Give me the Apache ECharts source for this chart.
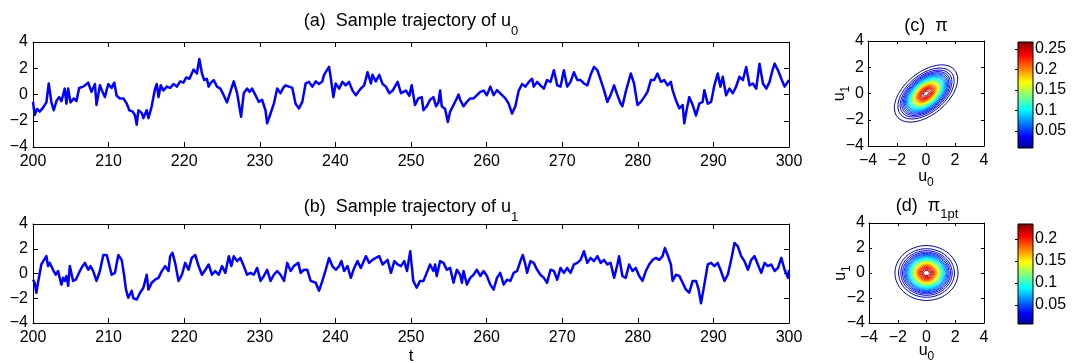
<!DOCTYPE html>
<html><head><meta charset="utf-8">
<script src="https://cdn.jsdelivr.net/npm/echarts@6/dist/echarts.min.js"></script>
<style>html,body{margin:0;padding:0;background:#fff}#c{width:1072px;height:362px}</style>
</head><body><div id="c"></div>
<script>
// ---------- data ----------
const tRange = [200, 300];
const tTickStep = 10;
const uRange = [-4, 4];
const uTickStep = 2;

const u0Points = [[200.0,-0.56],[200.22,-1.57],[200.53,-1.1],[200.88,-1.3],[201.33,-1.0],[201.77,-0.6],[202.08,0.84],[202.43,-0.6],[202.74,-1.2],[203.1,-0.5],[203.45,-0.2],[203.76,-0.5],[204.2,0.45],[204.42,-0.7],[204.65,0.45],[204.96,-0.6],[205.4,-0.3],[205.75,-0.5],[206.1,0.5],[206.64,0.6],[207.3,0.9],[207.74,0.2],[208.19,0.8],[208.4,-0.8],[208.85,0.7],[209.2,0.2],[209.5,-0.2],[209.96,0.8],[210.4,0.5],[210.75,0.9],[211.06,-0.1],[211.5,-0.3],[211.95,-0.3],[212.4,-0.7],[212.74,-1.2],[213.19,-1.3],[213.5,-1.6],[213.72,-2.3],[213.94,-1.2],[214.38,-1.4],[214.6,-1.8],[215.04,-1.2],[215.27,-1.8],[215.7,-0.9],[216.15,0.45],[216.37,0.8],[216.6,-0.2],[216.9,0.7],[217.26,0.3],[217.7,0.6],[218.14,0.5],[218.58,0.8],[219.03,0.6],[219.47,1.0],[219.9,0.9],[220.27,1.3],[220.7,1.2],[221.24,1.9],[221.68,1.6],[222.0,2.7],[222.35,1.6],[222.65,1.1],[223.0,1.2],[223.23,0.6],[223.54,0.9],[223.9,1.1],[224.34,0.6],[224.78,0.45],[225.22,-0.05],[225.66,-0.6],[226.1,0.2],[226.55,1.0],[227.0,0.1],[227.52,-1.7],[227.88,0.1],[228.32,0.45],[228.67,0.2],[228.98,0.45],[229.42,-0.05],[229.87,-0.56],[230.3,-0.4],[230.75,-1.2],[230.97,-2.2],[231.42,-1.45],[231.86,-0.7],[232.3,0.45],[232.74,0.1],[233.1,0.5],[233.4,0.7],[233.85,0.6],[234.3,0.5],[234.73,-0.7],[235.18,-1.06],[235.62,-0.56],[236.06,0.84],[236.5,0.96],[236.95,0.6],[237.4,1.0],[237.83,0.8],[238.27,1.0],[238.5,1.5],[238.72,1.7],[239.16,2.1],[239.38,1.3],[239.73,-0.2],[240.04,0.84],[240.49,0.45],[240.93,0.96],[241.37,0.7],[241.8,0.96],[242.26,0.3],[242.7,-0.05],[243.36,0.45],[243.8,0.7],[244.03,1.2],[244.25,1.7],[244.7,0.84],[244.9,1.5],[245.35,1.0],[245.8,1.5],[246.24,0.8],[246.68,0.6],[247.12,0.1],[247.57,0.3],[248.23,0.96],[248.67,0.1],[249.34,0.3],[249.78,-0.1],[250.09,0.7],[250.53,-0.8],[250.97,-0.3],[251.42,-0.2],[251.64,-1.2],[252.08,-0.9],[252.52,-0.4],[252.96,-0.2],[253.32,-0.9],[253.63,-0.6],[253.85,0.3],[254.07,-0.9],[254.51,-1.1],[254.87,-2.1],[255.18,-1.3],[255.62,-0.8],[256.06,-0.3],[256.28,0.0],[256.5,-0.4],[256.95,-0.9],[257.39,-0.56],[257.83,-0.3],[258.27,-0.3],[258.72,-0.05],[259.16,0.2],[259.6,0.3],[260.04,-0.05],[260.49,0.6],[260.93,-0.05],[261.37,0.33],[261.6,0.45],[262.04,-0.05],[262.48,-0.3],[262.92,-0.7],[263.36,-1.45],[263.8,-0.9],[264.25,0.3],[264.7,0.8],[265.13,0.6],[265.58,0.96],[266.02,1.2],[266.24,0.6],[266.68,0.96],[267.12,0.7],[267.57,0.45],[268.0,1.1],[268.45,0.96],[268.9,1.85],[269.34,0.7],[269.78,0.6],[270.22,1.85],[270.66,0.6],[271.1,0.96],[271.55,1.7],[272.0,1.1],[272.43,1.1],[272.88,0.84],[273.32,0.7],[273.76,1.5],[274.2,2.1],[274.65,1.85],[275.1,1.1],[275.53,0.33],[275.97,-0.56],[276.4,-0.05],[276.86,0.7],[277.3,-0.05],[277.74,-0.7],[277.96,-0.9],[278.4,0.2],[279.07,1.6],[279.5,0.84],[279.96,-0.8],[280.4,-0.56],[280.84,-0.2],[281.28,0.2],[281.73,1.1],[282.17,1.1],[282.6,1.6],[283.05,0.96],[283.5,1.1],[283.94,0.7],[284.38,0.96],[284.6,0.33],[285.04,-0.43],[285.5,-1.06],[285.93,-0.8],[286.15,-2.2],[286.37,-1.45],[286.8,-0.2],[287.26,-0.8],[287.7,-1.6],[288.14,-0.7],[288.58,-0.56],[288.8,0.33],[289.25,-0.7],[289.7,-0.56],[290.13,0.7],[290.57,1.6],[290.93,0.6],[291.24,1.35],[291.68,-0.05],[292.12,0.45],[292.57,0.1],[293.0,0.6],[293.45,1.35],[293.9,1.1],[294.34,2.1],[294.78,0.7],[295.22,0.84],[295.66,0.45],[296.1,2.35],[296.55,0.84],[297.0,0.45],[297.43,0.96],[297.74,1.7],[298.1,2.35],[298.54,1.85],[298.98,1.2],[299.42,0.6],[300.0,1.1]];

const u1Points = [[200.0,-0.5],[200.22,-0.75],[200.44,-1.55],[200.66,-0.75],[200.88,-0.6],[201.1,0.73],[201.33,0.86],[201.77,1.4],[201.99,0.6],[202.21,0.86],[202.43,1.0],[202.65,0.3],[203.0,-0.1],[203.32,0.2],[203.63,-0.6],[203.76,-0.9],[203.98,-0.35],[204.2,-0.6],[204.42,-0.2],[204.65,-1.0],[204.87,0.6],[205.0,0.7],[205.3,-0.6],[205.66,-0.5],[205.97,-0.1],[206.2,0.2],[206.42,0.45],[206.86,0.86],[207.3,0.3],[207.6,0.6],[207.96,0.2],[208.4,-0.6],[208.85,0.2],[209.3,1.5],[209.73,1.5],[209.96,1.0],[210.4,-0.1],[210.84,0.05],[211.28,1.5],[211.73,1.1],[212.04,-0.1],[212.3,-1.3],[212.6,-1.96],[213.05,-1.4],[213.27,-2.0],[213.72,-2.1],[214.16,-1.55],[214.6,-1.15],[215.04,-0.1],[215.27,-1.3],[215.7,-0.75],[216.15,-0.5],[216.6,-0.35],[217.04,0.2],[217.48,0.6],[217.92,0.2],[218.14,1.4],[218.45,1.67],[218.8,0.86],[219.25,-0.6],[219.7,-0.1],[220.13,0.86],[220.58,0.3],[221.0,1.26],[221.46,1.5],[221.9,0.6],[222.35,-0.1],[222.8,0.3],[223.23,0.73],[223.67,-0.1],[224.1,0.2],[224.56,-0.1],[225.0,0.6],[225.44,0.05],[225.9,1.4],[226.24,0.6],[226.55,1.4],[227.0,1.0],[227.43,1.26],[227.88,0.6],[228.32,-0.1],[228.76,0.05],[229.2,-0.1],[229.65,0.45],[230.1,-0.6],[230.53,-0.2],[230.97,0.3],[231.42,-0.6],[231.86,-0.1],[232.3,0.2],[232.74,-0.1],[233.2,-0.6],[233.63,0.86],[234.07,0.2],[234.5,0.6],[235.1,0.86],[235.4,0.05],[235.84,0.3],[236.28,0.3],[236.73,-0.6],[237.4,-0.75],[237.83,-1.4],[238.27,-0.6],[238.72,0.3],[239.16,1.26],[239.6,0.6],[240.04,0.3],[240.49,0.6],[240.8,1.0],[241.15,0.2],[241.6,0.6],[242.04,-0.35],[242.48,0.45],[242.92,1.0],[243.36,0.45],[244.03,1.4],[244.47,0.86],[244.9,1.1],[245.35,1.26],[245.8,1.4],[246.24,0.73],[246.9,1.1],[247.35,0.05],[247.8,1.0],[248.23,0.73],[248.67,0.6],[249.1,1.0],[249.47,0.2],[249.9,1.8],[250.3,-0.6],[250.75,-1.15],[251.2,-0.6],[251.64,-0.6],[252.08,0.05],[252.52,0.73],[252.96,0.2],[253.19,0.73],[253.4,-0.2],[253.85,1.0],[254.3,0.86],[254.73,0.3],[255.18,0.45],[255.62,-0.75],[256.06,0.3],[256.5,-0.1],[256.73,-0.75],[256.95,0.2],[257.39,-0.9],[257.83,-0.35],[258.27,-0.1],[258.72,0.3],[259.16,-0.2],[259.6,0.2],[260.04,-0.2],[260.49,-0.9],[260.93,-1.3],[261.37,-0.35],[261.8,0.05],[262.26,-0.9],[262.7,-0.5],[263.14,-0.6],[263.58,0.05],[264.03,0.2],[264.47,1.0],[264.78,1.5],[265.13,0.73],[265.35,0.05],[265.8,1.0],[266.24,0.86],[266.68,0.3],[267.12,-0.1],[267.57,-0.35],[268.0,-0.75],[268.45,0.3],[268.9,0.2],[269.34,-0.5],[269.78,0.45],[270.22,0.05],[270.66,0.45],[271.1,0.05],[271.55,0.73],[272.0,0.86],[272.43,1.1],[272.88,1.8],[273.32,0.86],[273.76,1.26],[274.2,1.0],[274.65,1.4],[275.1,0.86],[275.53,1.1],[275.97,0.73],[276.4,0.86],[276.86,-0.35],[277.3,0.73],[277.52,1.4],[277.96,-0.2],[278.4,-0.35],[278.85,0.73],[279.3,0.2],[279.73,0.45],[280.18,-0.2],[280.62,-0.6],[281.06,0.2],[281.5,0.73],[281.95,1.1],[282.4,1.26],[282.83,1.1],[283.27,1.4],[283.58,2.06],[283.94,1.5],[284.38,0.73],[284.6,-0.6],[285.04,-0.1],[285.5,-0.2],[285.93,-0.75],[286.37,-1.3],[286.8,-1.55],[287.26,-0.6],[287.7,-0.6],[288.05,-1.3],[288.36,-2.4],[288.8,-0.9],[289.25,0.73],[289.7,0.86],[290.13,0.6],[290.57,0.86],[291.0,0.2],[291.46,-0.6],[291.9,-0.1],[292.35,1.1],[292.79,2.47],[293.23,2.2],[293.67,1.4],[294.1,1.0],[294.56,0.3],[295.0,1.1],[295.44,1.4],[295.88,0.73],[296.33,0.05],[296.77,0.86],[297.2,0.6],[297.65,0.73],[298.1,0.2],[298.54,0.45],[298.98,1.26],[299.42,0.3],[299.87,-0.35],[300.0,0.3]];

// joint density pi (c) and one-point product density pi_1pt (d): covariance [var0, cov01, var1]
const covJoint = [0.69, 0.345, 0.69];
const covOnePoint = [0.68, 0.0, 0.68];
const climJoint = [0.0085, 0.267];
const climOnePoint = [0.0068, 0.234];
const contourLevelCount = 30;
const cbTicksJoint = [0.05, 0.1, 0.15, 0.2, 0.25];
const cbTicksOnePoint = [0.05, 0.1, 0.15, 0.2];

// ---------- helpers ----------
const FONT = '"Liberation Sans", Arial, Helvetica, sans-serif';
const TICK_FS = 16;
const jetStops = [[0,[0,0,143]],[0.111,[0,0,255]],[0.365,[0,255,255]],[0.619,[255,255,0]],[0.873,[255,0,0]],[1,[128,0,0]]];
function jet(t) {
  t = Math.max(0, Math.min(1, t));
  for (let i = 1; i < jetStops.length; i++) {
    if (t <= jetStops[i][0]) {
      const [t0, c0] = jetStops[i-1], [t1, c1] = jetStops[i];
      const f = (t - t0) / (t1 - t0);
      const c = c0.map((v, k) => Math.round(v + (c1[k] - v) * f));
      return 'rgb(' + c.join(',') + ')';
    }
  }
  return 'rgb(128,0,0)';
}
const jetGradient = jetStops.map(s => ({offset: s[0], color: 'rgb(' + s[1].join(',') + ')'}));
const minus = v => String(v).replace('-', '\u2212');

function contourSeries(cov, clim, n, axisIdx) {
  const [a, b, d] = cov;
  const det = a * d - b * b;
  const pmax = 1 / (2 * Math.PI * Math.sqrt(det));
  const l11 = Math.sqrt(a), l21 = b / l11, l22 = Math.sqrt(d - l21 * l21);
  const out = [];
  for (let k = 0; k < n; k++) {
    const lev = clim[0] + (clim[1] - clim[0]) * k / (n - 1);
    if (lev >= pmax) continue;
    const c = Math.sqrt(-2 * Math.log(lev / pmax));
    const pts = [];
    for (let j = 0; j <= 144; j++) {
      const th = 2 * Math.PI * j / 144;
      const z1 = c * Math.cos(th), z2 = c * Math.sin(th);
      pts.push([l11 * z1, l21 * z1 + l22 * z2]);
    }
    out.push({type: 'line', xAxisIndex: axisIdx, yAxisIndex: axisIdx, data: pts, symbol: 'none', showSymbol: false,
      lineStyle: {width: 1, color: jet((lev - clim[0]) / (clim[1] - clim[0]))}, silent: true, z: 2});
  }
  return out;
}

function colorbarSeries(clim, axisIdx) {
  return {type: 'custom', xAxisIndex: axisIdx, yAxisIndex: axisIdx, silent: true, z: 1,
    data: [[0, clim[0], 1, clim[1]]],
    renderItem: (params, api) => {
      const p0 = api.coord([api.value(0), api.value(3)]);
      const p1 = api.coord([api.value(2), api.value(1)]);
      return {type: 'rect', shape: {x: p0[0], y: p0[1], width: p1[0] - p0[0], height: p1[1] - p0[1]},
        style: {fill: new echarts.graphic.LinearGradient(0, 1, 0, 0, jetGradient), stroke: '#000', lineWidth: 1}};
    }};
}

const lineStyleAxis = {color: '#000', width: 1};
function axis(o) {
  const base = {
    type: 'value', splitLine: {show: false}, nameMoveOverlap: false,
    axisLine: {show: true, onZero: false, lineStyle: lineStyleAxis},
    axisTick: {show: true, inside: true, length: o.tickLen || 5, lineStyle: lineStyleAxis},
    axisLabel: {show: !!o.labels, color: '#000', fontSize: TICK_FS, fontFamily: FONT, margin: o.margin || 6, formatter: minus},
  };
  return Object.assign(base, o.extra || {});
}
const nameRich = (sizeMain, sizeSub, pad) => ({
  m: {fontSize: sizeMain, fontFamily: FONT, color: '#000', verticalAlign: 'top', lineHeight: sizeMain},
  s: {fontSize: sizeSub, fontFamily: FONT, color: '#000', verticalAlign: 'top', lineHeight: sizeSub, padding: [pad, 0, 0, 0]}
});

const tsX = (g, pos, labels, extra) => axis({labels, margin: 7, extra: Object.assign({gridIndex: g, position: pos, min: tRange[0], max: tRange[1], interval: tTickStep}, extra || {})});
const tsY = (g, pos, labels) => axis({labels, margin: 5, extra: {gridIndex: g, position: pos, min: uRange[0], max: uRange[1], interval: uTickStep}});
const ctX = (g, pos, labels, extra) => axis({labels, margin: 7, tickLen: 3, extra: Object.assign({gridIndex: g, position: pos, min: uRange[0], max: uRange[1], interval: uTickStep}, extra || {})});
const ctY = (g, pos, labels, extra) => axis({labels, margin: 4, tickLen: 3, extra: Object.assign({gridIndex: g, position: pos, min: uRange[0], max: uRange[1], interval: uTickStep}, extra || {})});
const cbY = (g, pos, clim, ticks, labels) => axis({labels, margin: 3, tickLen: 3, extra: {gridIndex: g, position: pos, min: clim[0], max: clim[1],
  axisLine: {show: false}, axisLabel: {show: labels, color: '#000', fontSize: TICK_FS, fontFamily: FONT, margin: 2, customValues: ticks, formatter: v => String(v)},
  axisTick: {show: true, inside: true, length: 3, customValues: ticks, lineStyle: lineStyleAxis}}});
const hidX = g => ({type: 'value', gridIndex: g, min: 0, max: 1, show: false});

const u0Name = {name: '{m|u}{s|0}', nameLocation: 'middle', nameTextStyle: {rich: nameRich(16, 12, 8)}};
const u1Name = {name: '{m|u}{s|1}', nameLocation: 'middle', nameTextStyle: {rich: nameRich(16, 12, 8)}};

const titleRich = (pad) => ({
  m: {fontSize: 18, fontFamily: FONT, color: '#000', verticalAlign: 'top', lineHeight: 20},
  s: {fontSize: 13, fontFamily: FONT, color: '#000', verticalAlign: 'top', lineHeight: 14, padding: [pad, 0, 0, 0]}
});

const option = {
  animation: false,
  backgroundColor: '#fff',
  grid: [
    {left: 33, top: 42, width: 756, height: 105},
    {left: 33, top: 224, width: 756, height: 99},
    {left: 868, top: 41, width: 116, height: 105},
    {left: 869, top: 223, width: 115, height: 100},
    {left: 1018, top: 42, width: 15, height: 106},
    {left: 1018, top: 224, width: 15, height: 100}
  ].map(g => Object.assign(g, {containLabel: false, outerBoundsMode: 'none'})),
  xAxis: [
    tsX(0, 'bottom', true), tsX(0, 'top', false),
    tsX(1, 'bottom', true, {name: 't', nameLocation: 'middle', nameGap: 25, nameTextStyle: {fontSize: 17, fontFamily: FONT, color: '#000'}}), tsX(1, 'top', false),
    ctX(2, 'bottom', true, Object.assign({nameGap: 23}, u0Name)), ctX(2, 'top', false),
    ctX(3, 'bottom', true, Object.assign({nameGap: 20}, u0Name)), ctX(3, 'top', false),
    hidX(4), hidX(5)
  ],
  yAxis: [
    tsY(0, 'left', true), tsY(0, 'right', false),
    tsY(1, 'left', true), tsY(1, 'right', false),
    ctY(2, 'left', true, Object.assign({nameGap: 20}, u1Name)), ctY(2, 'right', false),
    ctY(3, 'left', true, Object.assign({nameGap: 20}, u1Name)), ctY(3, 'right', false),
    cbY(4, 'right', climJoint, cbTicksJoint, true), cbY(5, 'right', climOnePoint, cbTicksOnePoint, true),
    cbY(4, 'left', climJoint, cbTicksJoint, false), cbY(5, 'left', climOnePoint, cbTicksOnePoint, false)
  ],
  series: [
    {type: 'line', xAxisIndex: 0, yAxisIndex: 0, data: u0Points, symbol: 'none', showSymbol: false, lineStyle: {color: '#0000FF', width: 2.5, join: 'round'}, z: 3},
    {type: 'line', xAxisIndex: 2, yAxisIndex: 2, data: u1Points, symbol: 'none', showSymbol: false, lineStyle: {color: '#0000FF', width: 2.5, join: 'round'}, z: 3},
    ...contourSeries(covJoint, climJoint, contourLevelCount, 4),
    ...contourSeries(covOnePoint, climOnePoint, contourLevelCount, 6),
    colorbarSeries(climJoint, 8),
    colorbarSeries(climOnePoint, 9)
  ],
  graphic: [
    {type: 'text', x: 411, y: 12, style: {text: '{m|(a)  Sample trajectory of u}{s|0}', align: 'center', verticalAlign: 'top', rich: titleRich(13)}},
    {type: 'text', x: 411, y: 198, style: {text: '{m|(b)  Sample trajectory of u}{s|1}', align: 'center', verticalAlign: 'top', rich: titleRich(13)}},
    {type: 'text', x: 926, y: 17, style: {text: '{m|(c)  \u03C0}', align: 'center', verticalAlign: 'top', rich: titleRich(11)}},
    {type: 'text', x: 927, y: 197, style: {text: '{m|(d)  \u03C0}{s|1pt}', align: 'center', verticalAlign: 'top', rich: titleRich(11)}}
  ]
};

const chart = echarts.init(document.getElementById('c'), null, {renderer: 'canvas'});
chart.setOption(option);
</script>
</body></html>
